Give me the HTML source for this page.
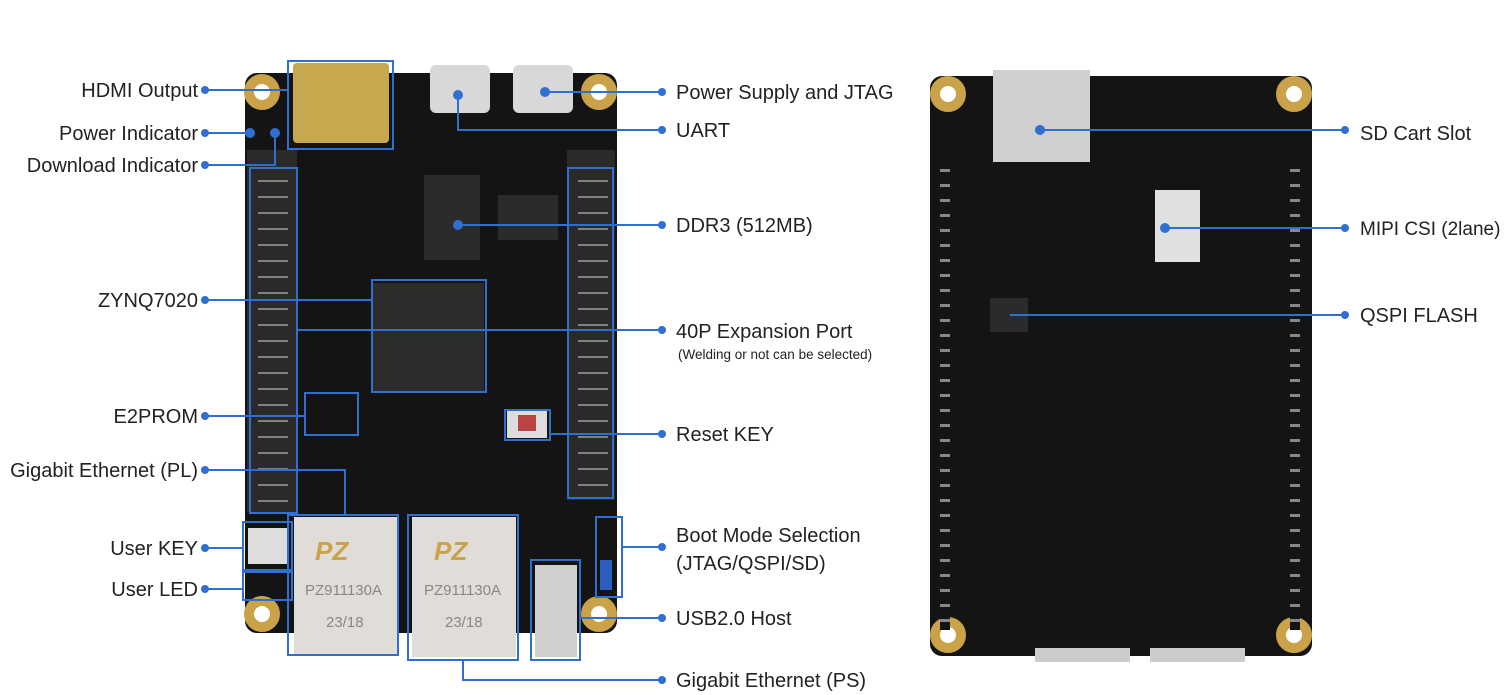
<!DOCTYPE html>
<html><head><meta charset="utf-8"><style>
body{margin:0;width:1508px;height:695px;background:#fff;position:relative;overflow:hidden;font-family:"Liberation Sans",sans-serif}
.a{position:absolute}
.t{position:absolute;font-size:20px;color:#222;white-space:nowrap;line-height:22px}
.hole{position:absolute;width:36px;height:36px;border-radius:50%;background:#c9a24a;box-sizing:border-box;border:8px solid #c9a24a}
.hole::after{content:"";position:absolute;left:2px;top:2px;width:16px;height:16px;border-radius:50%;background:#fff}
</style></head><body>
<div class="a" style="left:245px;top:73px;width:372px;height:560px;background:#141414;border-radius:12px"></div>
<div class="hole" style="left:244px;top:74px"></div>
<div class="hole" style="left:581px;top:74px"></div>
<div class="hole" style="left:244px;top:596px"></div>
<div class="hole" style="left:581px;top:596px"></div>
<div class="a" style="left:247px;top:150px;width:50px;height:362px;background:#2a2a2a"></div>
<div class="a" style="left:567px;top:150px;width:48px;height:350px;background:#2a2a2a"></div>
<div class="a" style="left:258px;top:172px;width:30px;height:330px;background:repeating-linear-gradient(#2a2a2a 0 8px,#bbb 8px 10px,#2a2a2a 10px 16px);opacity:.6"></div>
<div class="a" style="left:578px;top:172px;width:30px;height:320px;background:repeating-linear-gradient(#2a2a2a 0 8px,#bbb 8px 10px,#2a2a2a 10px 16px);opacity:.6"></div>
<div class="a" style="left:293px;top:63px;width:96px;height:80px;background:#c8a84e;border-radius:4px"></div>
<div class="a" style="left:430px;top:65px;width:60px;height:48px;background:#d8d8d8;border-radius:6px"></div>
<div class="a" style="left:513px;top:65px;width:60px;height:48px;background:#d8d8d8;border-radius:6px"></div>
<div class="a" style="left:424px;top:175px;width:56px;height:85px;background:#2b2b2b"></div>
<div class="a" style="left:372px;top:283px;width:112px;height:108px;background:#2c2c2c"></div>
<div class="a" style="left:498px;top:195px;width:60px;height:45px;background:#2b2b2b"></div>
<div class="a" style="left:507px;top:410px;width:40px;height:28px;background:#ddd"></div>
<div class="a" style="left:518px;top:415px;width:18px;height:16px;background:#b44"></div>
<div class="a" style="left:294px;top:517px;width:104px;height:138px;background:#e0ddd8"></div>
<div class="a" style="left:412px;top:517px;width:104px;height:140px;background:#e0ddd8"></div>
<div class="t" style="left:305px;top:580px;color:#888;font-size:15px">PZ911130A</div>
<div class="t" style="left:424px;top:580px;color:#888;font-size:15px">PZ911130A</div>
<div class="t" style="left:326px;top:612px;color:#888;font-size:15px">23/18</div>
<div class="t" style="left:445px;top:612px;color:#888;font-size:15px">23/18</div>
<div class="t" style="left:315px;top:540px;color:#c9a24a;font-size:26px;font-weight:bold;font-style:italic">PZ</div>
<div class="t" style="left:434px;top:540px;color:#c9a24a;font-size:26px;font-weight:bold;font-style:italic">PZ</div>
<div class="a" style="left:535px;top:565px;width:42px;height:92px;background:#cfcfcf"></div>
<div class="a" style="left:248px;top:528px;width:40px;height:36px;background:#ddd"></div>
<div class="a" style="left:600px;top:560px;width:12px;height:30px;background:#2a5fc0"></div>
<div class="a" style="left:930px;top:76px;width:382px;height:580px;background:#141414;border-radius:12px"></div>
<div class="hole" style="left:930px;top:76px"></div>
<div class="hole" style="left:1276px;top:76px"></div>
<div class="hole" style="left:930px;top:617px"></div>
<div class="hole" style="left:1276px;top:617px"></div>
<div class="a" style="left:993px;top:70px;width:97px;height:92px;background:#d0d0d0"></div>
<div class="a" style="left:1155px;top:190px;width:45px;height:72px;background:#e0e0e0"></div>
<div class="a" style="left:990px;top:298px;width:38px;height:34px;background:#2b2b2b"></div>
<div class="a" style="left:940px;top:160px;width:10px;height:470px;background:repeating-linear-gradient(#141414 0 9px,#888 9px 12px,#141414 12px 15px)"></div>
<div class="a" style="left:1290px;top:160px;width:10px;height:470px;background:repeating-linear-gradient(#141414 0 9px,#888 9px 12px,#141414 12px 15px)"></div>
<div class="a" style="left:1035px;top:648px;width:95px;height:14px;background:#ccc"></div>
<div class="a" style="left:1150px;top:648px;width:95px;height:14px;background:#ccc"></div>
<svg class="a" style="left:0;top:0" width="1508" height="695">
<g stroke="#2f6fd0" stroke-width="2" fill="none">
<rect x="288" y="61" width="105" height="88"/>
<rect x="250" y="168" width="47" height="345"/>
<rect x="568" y="168" width="45" height="330"/>
<rect x="372" y="280" width="114" height="112"/>
<rect x="305" y="393" width="53" height="42"/>
<rect x="505" y="410" width="45" height="30"/>
<rect x="288" y="515" width="110" height="140"/>
<rect x="408" y="515" width="110" height="145"/>
<rect x="531" y="560" width="49" height="100"/>
<rect x="596" y="517" width="26" height="80"/>
<rect x="243" y="522" width="49" height="48"/>
<rect x="243" y="572" width="49" height="28"/>
<path d="M205 90H288M205 133H250M205 165H275V133M205 300H372M205 416H305M205 470H345V515M205 548H243M205 589H243"/>
<path d="M545 92H662M458 95V130H662M458 225H662M297 330H662M550 434H662M622 547H662M580 618H662M463 660V680H662"/>
<path d="M1040 130H1345M1165 228H1345M1010 315H1345"/>
</g>
<g fill="#2f6fd0">
<circle cx="205" cy="90" r="4"/><circle cx="205" cy="133" r="4"/><circle cx="205" cy="165" r="4"/><circle cx="205" cy="300" r="4"/><circle cx="205" cy="416" r="4"/><circle cx="205" cy="470" r="4"/><circle cx="205" cy="548" r="4"/><circle cx="205" cy="589" r="4"/>
<circle cx="662" cy="92" r="4"/><circle cx="662" cy="130" r="4"/><circle cx="662" cy="225" r="4"/><circle cx="662" cy="330" r="4"/><circle cx="662" cy="434" r="4"/><circle cx="662" cy="547" r="4"/><circle cx="662" cy="618" r="4"/><circle cx="662" cy="680" r="4"/>
<circle cx="545" cy="92" r="5"/><circle cx="458" cy="95" r="5"/><circle cx="458" cy="225" r="5"/><circle cx="250" cy="133" r="5"/><circle cx="275" cy="133" r="5"/>
<circle cx="1345" cy="130" r="4"/><circle cx="1345" cy="228" r="4"/><circle cx="1345" cy="315" r="4"/>
<circle cx="1040" cy="130" r="5"/><circle cx="1165" cy="228" r="5"/>
</g>
</svg>
<div class="t" style="right:1310px;top:80px">HDMI Output</div>
<div class="t" style="right:1310px;top:123px">Power Indicator</div>
<div class="t" style="right:1310px;top:155px">Download Indicator</div>
<div class="t" style="right:1310px;top:290px">ZYNQ7020</div>
<div class="t" style="right:1310px;top:406px">E2PROM</div>
<div class="t" style="right:1310px;top:460px">Gigabit Ethernet (PL)</div>
<div class="t" style="right:1310px;top:538px">User KEY</div>
<div class="t" style="right:1310px;top:579px">User LED</div>
<div class="t" style="left:676px;top:82px">Power Supply and JTAG</div>
<div class="t" style="left:676px;top:120px">UART</div>
<div class="t" style="left:676px;top:215px">DDR3 (512MB)</div>
<div class="t" style="left:676px;top:321px">40P Expansion Port</div>
<div class="t" style="left:678px;top:344px;font-size:13.5px">(Welding or not can be selected)</div>
<div class="t" style="left:676px;top:424px">Reset KEY</div>
<div class="t" style="left:676px;top:525px">Boot Mode Selection</div>
<div class="t" style="left:676px;top:553px">(JTAG/QSPI/SD)</div>
<div class="t" style="left:676px;top:608px">USB2.0 Host</div>
<div class="t" style="left:676px;top:670px">Gigabit Ethernet (PS)</div>
<div class="t" style="left:1360px;top:123px">SD Cart Slot</div>
<div class="t" style="left:1360px;top:219px;font-size:19px">MIPI CSI (2lane)</div>
<div class="t" style="left:1360px;top:305px">QSPI FLASH</div>
</body></html>
